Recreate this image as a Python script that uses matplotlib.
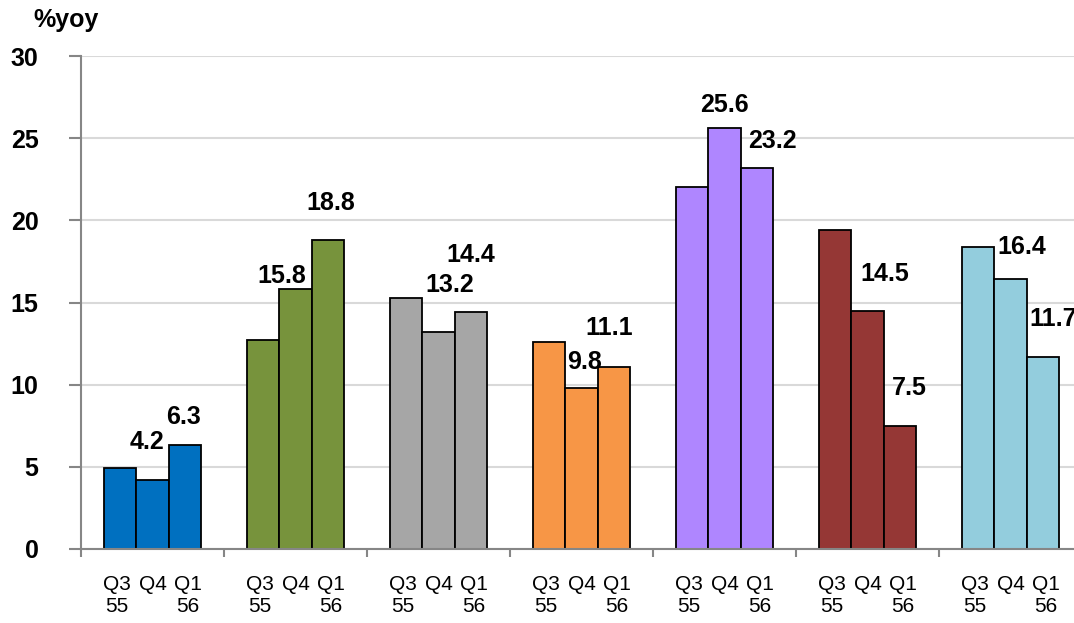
import numpy as np
import matplotlib
matplotlib.use("Agg")
import matplotlib.pyplot as plt

plt.rcParams['font.family'] = ['Liberation Sans', 'DejaVu Sans']

# DATA
quarters = ["Q3\n55", "Q4", "Q1\n56"]
q3_55 = [4.9, 12.7, 15.3, 12.6, 22.0, 19.4, 18.4]
q4_55 = [4.2, 15.8, 13.2, 9.8, 25.6, 14.5, 16.4]
q1_56 = [6.3, 18.8, 14.4, 11.1, 23.2, 7.5, 11.7]
colors = ["#0070C0", "#77933C", "#A6A6A6", "#F79646", "#AF86FF", "#953735", "#93CDDD"]

# label nudges in pixels (dx, dy above bar top) for Q4 and Q1 labels
q4_offsets = [(-6, 38), (-14, 13), (11, 47), (3, 26), (0, 23), (17, 37), (11, 32)]
q1_offsets = [(-1, 28), (3, 37), (0, 57), (-4, 39), (16, 27), (10, 38), (11, 38)]

W, H = 1074, 623
fig = plt.figure(figsize=(W / 100, H / 100), dpi=100)
ax = fig.add_axes([81 / W, 74 / H, 1001 / W, 493 / H])

n = len(q3_55)
bw = 0.224
centers = np.arange(n) + 0.5
series = [q3_55, q4_55, q1_56]

for j, vals in enumerate(series):
    xs = centers + (j - 1) * bw
    ax.bar(xs, vals, width=bw, color=colors, edgecolor="black", linewidth=1.3, zorder=3)

px = 0.72
for i in range(n):
    for j, vals, offs in ((1, q4_55, q4_offsets), (2, q1_56, q1_offsets)):
        x = centers[i] + (j - 1) * bw
        dx, dy = offs[i]
        ax.annotate(f"{vals[i]:.1f}", (x, vals[i]), xytext=(dx * px, dy * px),
                    textcoords="offset points", ha="center", va="center",
                    fontsize=18, fontweight="bold", annotation_clip=False)

ax.set_xlim(0, n)
ax.set_ylim(0, 30)
ax.set_yticks(np.arange(0, 31, 5))
ax.set_yticklabels([str(v) for v in range(0, 31, 5)], fontsize=18, fontweight="bold")
ax.yaxis.grid(True, color="#D9D9D9", linewidth=1.5, zorder=0)
ax.set_axisbelow(True)

ax.set_xticks(np.arange(0, n + 1))
ax.set_xticklabels([])
# category labels sit a little wider apart than the bars
minor_pos = np.concatenate([centers + (j - 1) * 0.25 for j in range(3)])
minor_lab = [q for q in quarters for _ in range(n)]
ax.set_xticks(minor_pos, minor=True)
ax.set_xticklabels(minor_lab, minor=True, fontsize=15, linespacing=1.2)
ax.tick_params(axis="x", which="minor", length=0, pad=19)
ax.tick_params(axis="x", which="major", length=6, width=1.5, color="#868686", direction="out")
ax.tick_params(axis="y", length=8.5, width=1.5, color="#868686", pad=22)

for s in ["top", "right"]:
    ax.spines[s].set_visible(False)
for s in ["left", "bottom"]:
    ax.spines[s].set_color("#868686")
    ax.spines[s].set_linewidth(1.5)
    ax.spines[s].set_zorder(4)

fig.text(33 / W, 1 - 20 / H, "%yoy", fontsize=18, fontweight="bold", ha="left", va="center")

fig.savefig("out.png", dpi=100)
